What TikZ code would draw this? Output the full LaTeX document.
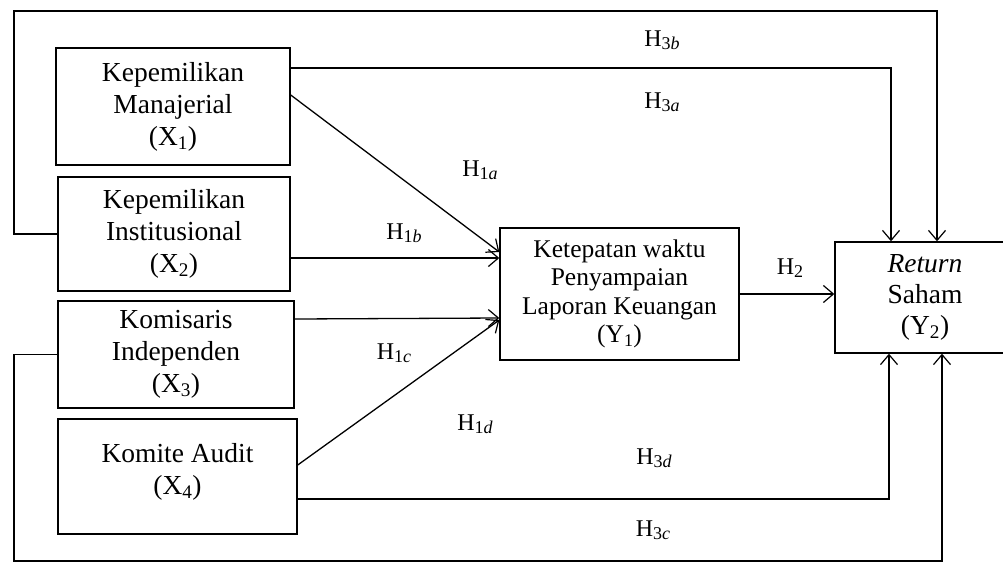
\documentclass[tikz,border=0pt]{standalone}
\usepackage{fontspec}
\setmainfont{Liberation Serif}
\usetikzlibrary{arrows.meta}

\newcommand{\hlab}[2]{H\raisebox{-0.3ex}{\fontsize{18}{18}\selectfont #1\textit{#2}}}

\begin{document}
\begin{tikzpicture}[x=1pt,y=-1pt]
 \tikzstyle{arrow} = [-{Straight Barb[length=10pt,width=17pt,line width=1.2pt]}];
 \tikzstyle{link}  = [line width=1.3pt];
 \tikzstyle{var}   = [draw,line width=1.4pt,align=center,inner sep=0pt,font=\fontsize{27.5}{32}\selectfont];
 \tikzstyle{hyp}   = [inner sep=0pt,font=\fontsize{24}{28}\selectfont];

 \useasboundingbox (0,0) rectangle (1003,563);

 %% independent variables
 \node[var,name=x1,minimum width=234pt,minimum height=117pt] at (173,106.5)
      {Kepemilikan\\Manajerial\\(X\textsubscript{1})};
 \node[var,name=x2,minimum width=232pt,minimum height=114pt] at (174,234)
      {Kepemilikan\\Institusional\\(X\textsubscript{2})};
 \node[var,name=x3,minimum width=236pt,minimum height=107pt] at (176,354.5)
      {Komisaris\\Independen\\(X\textsubscript{3})};
 \node[var,name=x4,minimum width=239pt,minimum height=115pt] at (177.5,476.5)
      {Komite Audit\\(X\textsubscript{4})\\[-17pt]};

 %% intervening and dependent variables
 \node[var,name=y1,minimum width=239pt,minimum height=132pt,font=\fontsize{25.5}{28.5}\selectfont] at (619.5,294)
      {Ketepatan waktu\\Penyampaian\\Laporan Keuangan\\(Y\textsubscript{1})};
 \node[var,name=y2,minimum width=180pt,minimum height=111pt,font=\fontsize{27.5}{31}\selectfont] at (925,297.5)
      {\textit{Return}\\Saham\\(Y\textsubscript{2})};

 %% corners of the outer loops
 \coordinate (topleft) at (14,11);
 \coordinate (botleft) at (14,561);

 %% H1 paths
 \draw[link,arrow] ([yshift=11.5pt]x1.east) -- ([yshift=42pt]y1.west);
 \draw[link,arrow] ([yshift=-24pt]x2.east) -- ([yshift=36pt]y1.west);
 \draw[link,arrow] ([yshift=35.5pt]x3.east) -- ([yshift=-24pt]y1.west);
 \draw[link,arrow] ([yshift=11.5pt]x4.east) -- ([yshift=-26pt]y1.west);

 %% H2 path
 \draw[link,arrow] (y1.east) -- (y1.east -| y2.west);

 %% H3 paths
 \draw[link,arrow] ([yshift=38.5pt]x1.east) -| ([xshift=-34pt]y2.north);
 \draw[link,arrow] (x2.west) -| (topleft) -| ([xshift=12pt]y2.north);
 \draw[link,arrow] ([yshift=-22.5pt]x4.east) -| ([xshift=-36pt]y2.south);
 \draw[link,arrow] (x3.west) -| (botleft) -| ([xshift=17pt]y2.south);

 %% labels
 \node[hyp,name=h1a] at (480,170) {\hlab{1}{a}};
 \node[hyp,name=h1b] at (404,233) {\hlab{1}{b}};
 \node[hyp,name=h1c] at (394,353) {\hlab{1}{c}};
 \node[hyp,name=h1d] at (475,424) {\hlab{1}{d}};
 \node[hyp,name=h2]  at (790,268) {\hlab{2}{}};
 \node[hyp,name=h3a] at (662,102) {\hlab{3}{a}};
 \node[hyp,name=h3b] at (662,40)  {\hlab{3}{b}};
 \node[hyp,name=h3c] at (653,530) {\hlab{3}{c}};
 \node[hyp,name=h3d] at (654,458) {\hlab{3}{d}};

\end{tikzpicture}
\end{document}
